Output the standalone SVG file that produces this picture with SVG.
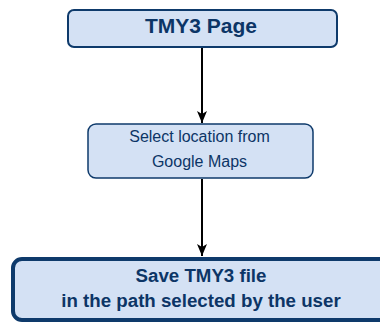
<svg xmlns="http://www.w3.org/2000/svg" width="380" height="323" viewBox="0 0 380 323">
<defs>
<style>
.box{fill:#d4e1f4;stroke:#0e3a6b;}
.t{font-family:"Liberation Sans",Arial,sans-serif;fill:#0c3566;text-anchor:middle;}
.b{font-weight:bold;}
.c{stroke:#000;stroke-width:2;fill:none;}
</style>
<marker id="ah" viewBox="0 0 12 10" refX="12" refY="5" markerWidth="12" markerHeight="10" markerUnits="userSpaceOnUse" orient="auto">
<path d="M0,0 L12,5 L0,10 L3,5 Z" fill="#000"/>
</marker>
</defs>
<g id="connectors">
<line class="c" x1="202" y1="48" x2="202" y2="123" marker-end="url(#ah)"/>
<line class="c" x1="202" y1="179" x2="202" y2="256" marker-end="url(#ah)"/>
</g>
<g id="n1">
<rect class="box" x="68" y="10" width="269" height="37" rx="6" stroke-width="2"/>
<text class="t b" x="201" y="32.5" font-size="21">TMY3 Page</text>
</g>
<g id="n2">
<rect class="box" x="88" y="124" width="225" height="54" rx="8" stroke-width="1.5"/>
<text class="t" x="199.5" y="142.3" font-size="16">Select location from</text>
<text class="t" x="199.5" y="167.3" font-size="16">Google Maps</text>
</g>
<g id="n3">
<rect class="box" x="13" y="259" width="380" height="61" rx="9" stroke-width="4"/>
<text class="t b" x="201" y="282.3" font-size="18.7">Save TMY3 file</text>
<text class="t b" x="201" y="306.5" font-size="18.7">in the path selected by the user</text>
</g>
</svg>
